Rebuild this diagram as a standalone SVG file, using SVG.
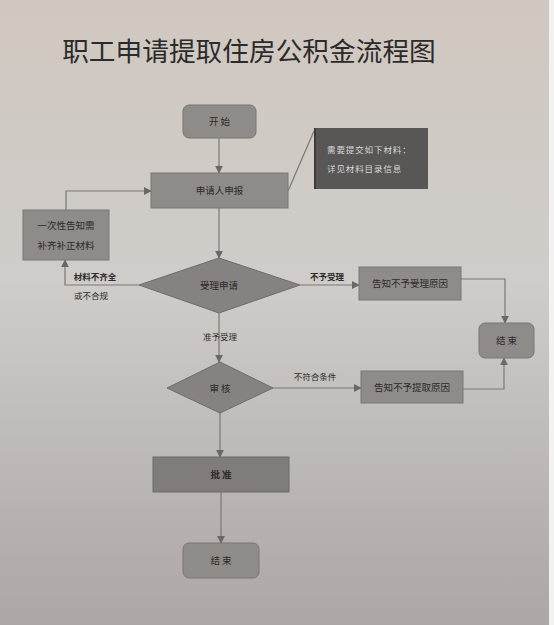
<svg xmlns="http://www.w3.org/2000/svg" width="554" height="625" viewBox="0 0 554 625">
<defs>
<linearGradient id="bg" x1="0" y1="0" x2="0" y2="1">
<stop offset="0" stop-color="#d0c8c0"/>
<stop offset="0.45" stop-color="#cfccc9"/>
<stop offset="1" stop-color="#aca6a4"/>
</linearGradient>
<marker id="arr" viewBox="0 0 10 10" refX="9" refY="5" markerWidth="8" markerHeight="8" orient="auto" markerUnits="userSpaceOnUse">
<path d="M0,0 L10,5 L0,10 z" fill="#6a6866"/>
</marker>
</defs>
<style>
.t{font-family:"Noto Sans CJK SC","Noto Sans CJK JP",sans-serif;text-anchor:middle;fill:#2c2a2a}
.box{fill:#8e8b89;stroke:#7a7775;stroke-width:1}
.dia{fill:#858281;stroke:#6f6c6a;stroke-width:1}
.c{fill:none;stroke:#7a7876;stroke-width:1.2}
.lbl{font-family:"Noto Sans CJK SC",sans-serif;font-size:8.5px;fill:#2c2a2a;text-anchor:middle}
.nt{font-family:"Noto Sans CJK SC",sans-serif;font-size:8.5px;fill:#d8d6d4;letter-spacing:0.9px}
</style>
<rect x="0" y="0" width="554" height="625" fill="url(#bg)"/>
<rect x="549" y="0" width="5" height="625" fill="#f2f2f2"/>
<text x="249" y="61" class="t" font-size="26.7" fill="#303030">职工申请提取住房公积金流程图</text>

<g id="connectors">
<line x1="219" y1="138" x2="219" y2="173" class="c" marker-end="url(#arr)"/>
<line x1="288" y1="191" x2="314" y2="131" class="c"/>
<line x1="219" y1="208" x2="219" y2="258" class="c" marker-end="url(#arr)"/>
<polyline points="66,210 66,191 151,191" class="c" marker-end="url(#arr)"/>
<polyline points="139,285 65,285 65,260" class="c" marker-end="url(#arr)"/>
<line x1="300" y1="285" x2="359" y2="285" class="c" marker-end="url(#arr)"/>
<polyline points="461,279 505,279 505,323" class="c" marker-end="url(#arr)"/>
<line x1="219" y1="313" x2="219" y2="362" class="c" marker-end="url(#arr)"/>
<line x1="273" y1="388" x2="361" y2="388" class="c" marker-end="url(#arr)"/>
<polyline points="463,389 504,389 504,358" class="c" marker-end="url(#arr)"/>
<line x1="220" y1="413" x2="220" y2="457" class="c" marker-end="url(#arr)"/>
<line x1="221" y1="492" x2="221" y2="543" class="c" marker-end="url(#arr)"/>
<text x="95" y="280" class="lbl" font-weight="bold">材料不齐全</text>
<text x="91" y="299" class="lbl">或不合规</text>
<text x="327" y="280" class="lbl" font-weight="bold">不予受理</text>
<text x="220" y="340" class="lbl">准予受理</text>
<text x="315" y="380" class="lbl">不符合条件</text>
</g>

<g id="start">
<rect x="183" y="105" width="73" height="33" rx="6" class="box"/>
<text x="219.5" y="125" class="t" font-size="9.5">开 始</text>
</g>
<g id="apply">
<rect x="151" y="173" width="137" height="35" class="box"/>
<text x="219.5" y="194" class="t" font-size="9.5">申请人申报</text>
</g>
<g id="note">
<rect x="314" y="128" width="114" height="61" fill="#595756"/>
<line x1="315" y1="128" x2="315" y2="189" stroke="#3e3c3b" stroke-width="2"/>
<text x="327" y="153" class="nt">需要提交如下材料：</text>
<text x="327" y="172" class="nt">详见材料目录信息</text>
</g>
<g id="notify">
<rect x="23" y="210" width="86" height="50" class="box"/>
<text x="66" y="229" class="t" font-size="9.5">一次性告知需</text>
<text x="66" y="249" class="t" font-size="9.5">补齐补正材料</text>
</g>
<g id="accept">
<polygon points="139,285 219,258 300,285 219,313" class="dia"/>
<text x="219" y="289" class="t" font-size="9.5">受理申请</text>
</g>
<g id="reject1">
<rect x="359" y="267" width="102" height="33" class="box"/>
<text x="410" y="287" class="t" font-size="9.5">告知不予受理原因</text>
</g>
<g id="end1">
<rect x="479" y="323" width="55" height="35" rx="6" class="box"/>
<text x="506.5" y="344" class="t" font-size="9.5">结 束</text>
</g>
<g id="review">
<polygon points="167,388 220,362 273,388 220,413" class="dia"/>
<text x="220" y="392" class="t" font-size="9.5">审 核</text>
</g>
<g id="reject2">
<rect x="361" y="371" width="102" height="32" class="box"/>
<text x="412" y="391" class="t" font-size="9.5">告知不予提取原因</text>
</g>
<g id="approve">
<rect x="153" y="457" width="136" height="35" fill="#7f7c7a" stroke="#6c6a68"/>
<text x="221" y="478" class="t" font-size="9.5" font-weight="bold">批 准</text>
</g>
<g id="end2">
<rect x="183" y="543" width="76" height="35" rx="6" class="box"/>
<text x="221" y="564" class="t" font-size="9.5">结 束</text>
</g>
</svg>
